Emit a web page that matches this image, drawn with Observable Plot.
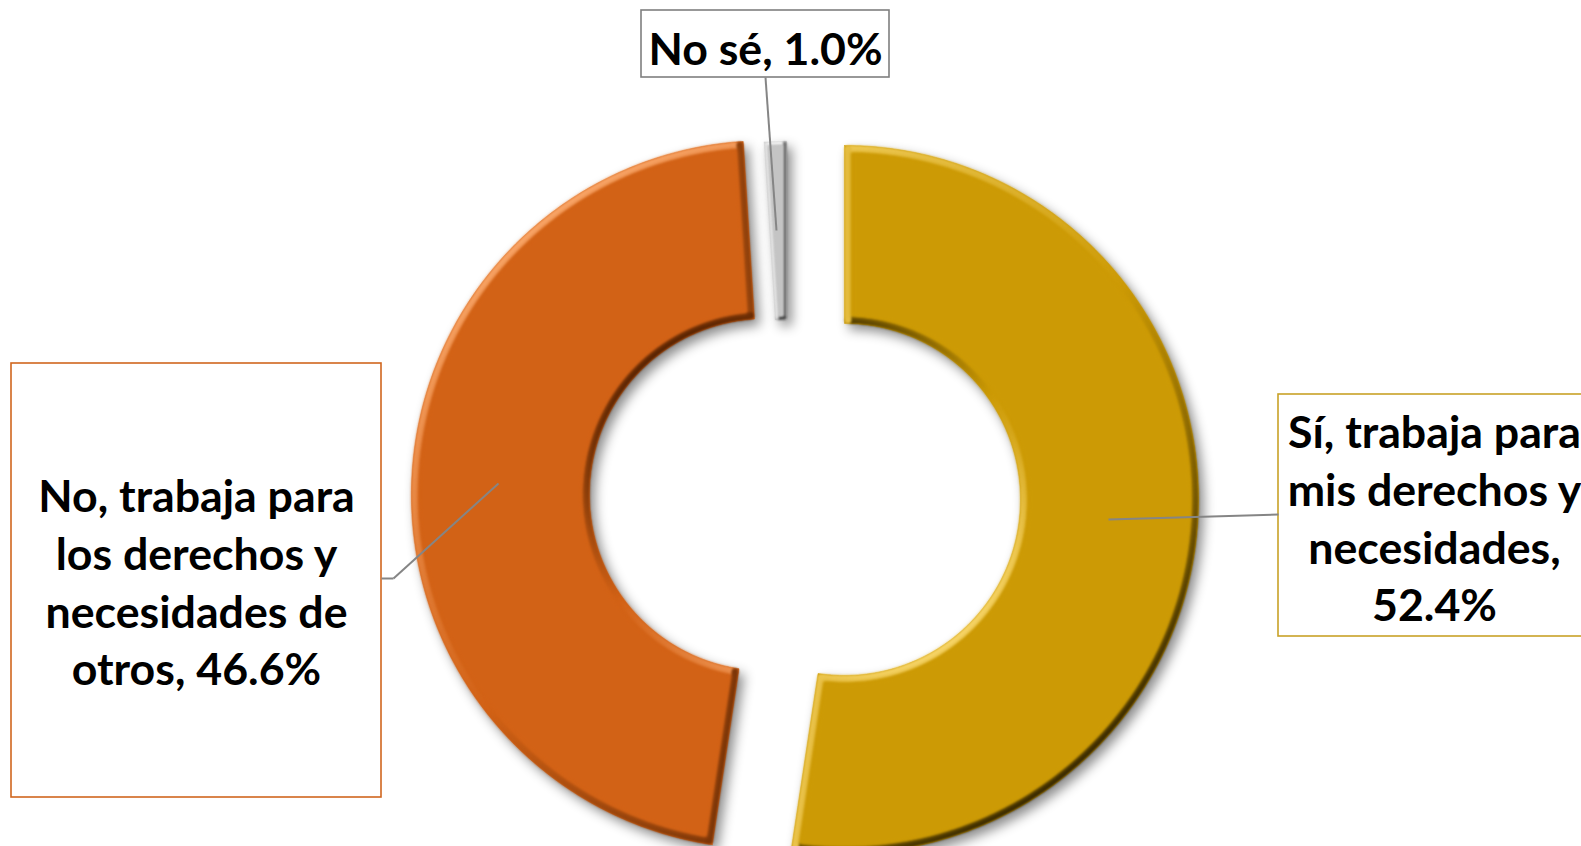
<!DOCTYPE html>
<html><head><meta charset="utf-8">
<script src="https://cdn.jsdelivr.net/npm/d3@7"></script>
<script src="https://cdn.jsdelivr.net/npm/@observablehq/plot@0.6"></script>
<style>html,body{margin:0;padding:0;background:#fff;overflow:hidden}</style>
</head><body><div id="chart"></div>
<script>
// ---- data ----
const categories = ["Sí, trabaja para mis derechos y necesidades", "No, trabaja para los derechos y necesidades de otros", "No sé"];
const values = [52.4, 46.6, 1.0];
const labelLines = [
  ["Sí, trabaja para", "mis derechos y", "necesidades,", "52.4%"],
  ["No, trabaja para", "los derechos y", "necesidades de", "otros, 46.6%"],
  ["No sé, 1.0%"]
];
const colors = ["#CC9A05", "#D26216", "#C4C4C4"];
const lightColors = ["#F6D467", "#F8A466", "#FFFFFF"];
const darkColors = ["#3A2A00", "#5A2503", "#2E2E2E"];
const boxStroke = ["#C9A227", "#D0661E", "#7F7F7F"];

// ---- layout ----
const W = 1581, H = 846;
const C = {x: 804.5, y: 496};
const R = 354, r = 176;
const shift = [{radial: 39.6}, {radial: 39.6}, {dx: -18.5, dy: -1}];
const bevel = [7, 7, 3.5];
const light = {x: -0.6, y: -0.8};
const boxes = [
  {x1: 1278, x2: 1600, y1: 394, y2: 636, tx: 1434, ty: 516},
  {x1: 11, x2: 381, y1: 363, y2: 797, tx: 196, ty: 580},
  {x1: 641, x2: 889, y1: 10, y2: 77, tx: 765, ty: 46}
];
const leaders = [
  {x1: 1108, y1: 519, x2: 1278, y2: 514},
  {x1: 498, y1: 483, x2: 393, y2: 578},
  {x1: 393, y1: 578, x2: 381, y2: 578},
  {x1: 776, y1: 230, x2: 765, y2: 77}
];

const arcs = d3.pie().sort(null).value(d => d)(values);

function ring(a0, a1, cx, cy, inset) {
  const pts = [];
  const Ro = R - inset, ri = r + inset;
  const ao0 = a0 + inset / Ro, ao1 = a1 - inset / Ro;
  const ai0 = a0 + inset / ri, ai1 = a1 - inset / ri;
  const n = Math.max(2, Math.ceil((a1 - a0) * 90));
  for (let i = 0; i <= n; i++) {
    const a = ao0 + (ao1 - ao0) * i / n;
    pts.push({x: cx + Ro * Math.sin(a), y: cy - Ro * Math.cos(a)});
  }
  for (let i = n; i >= 0; i--) {
    const a = ai0 + (ai1 - ai0) * i / n;
    pts.push({x: cx + ri * Math.sin(a), y: cy - ri * Math.cos(a)});
  }
  return pts;
}
const closed = pts => pts.concat([pts[0]]);

function bevelSegments(pts, i) {
  const segs = [];
  for (let k = 0; k < pts.length; k++) {
    const p = pts[k], q = pts[(k + 1) % pts.length];
    const dx = q.x - p.x, dy = q.y - p.y, len = Math.hypot(dx, dy) || 1;
    const s = (dy * light.x - dx * light.y) / len;
    const col = s >= 0 ? d3.interpolateRgb(colors[i], lightColors[i])(s) : d3.interpolateRgb(colors[i], darkColors[i])(-s);
    segs.push({x1: p.x, y1: p.y, x2: q.x, y2: q.y, c: col});
  }
  return segs;
}

const marks = [];
arcs.forEach((a, i) => {
  const s = shift[i];
  let cx = C.x, cy = C.y;
  if (s.radial) {
    const m = (a.startAngle + a.endAngle) / 2;
    cx += s.radial * Math.sin(m); cy -= s.radial * Math.cos(m);
  } else { cx += s.dx; cy += s.dy; }
  const b = bevel[i];
  marks.push(Plot.line(closed(ring(a.startAngle, a.endAngle, cx, cy, 0)), {x: "x", y: "y", fill: colors[i], stroke: colors[i], strokeWidth: 0.5}));
  marks.push(Plot.link(bevelSegments(ring(a.startAngle, a.endAngle, cx, cy, b / 2), i), {x1: "x1", y1: "y1", x2: "x2", y2: "y2", stroke: "c", strokeWidth: b, strokeLinecap: "round"}));
  marks.push(Plot.line(closed(ring(a.startAngle, a.endAngle, cx, cy, b)), {x: "x", y: "y", fill: colors[i], stroke: colors[i], strokeWidth: 0.5}));
});

const boxData = boxes.map((b, i) => ({...b, stroke: boxStroke[i], text: labelLines[i].join("\n")}));

marks.push(Plot.rect(boxData, {x1: "x1", x2: "x2", y1: "y1", y2: "y2", fill: "white", stroke: "stroke", strokeWidth: 1.6}));
marks.push(Plot.link(leaders, {x1: "x1", y1: "y1", x2: "x2", y2: "y2", stroke: "#858585", strokeWidth: 2}));
marks.push(Plot.text(boxData, {x: "tx", y: "ty", text: "text", textAnchor: "middle", lineAnchor: "middle",
  fontSize: 44.7, fontWeight: "bold", fontFamily: "Lato", lineHeight: 1.29, fill: "#000"}));

const chart = Plot.plot({
  width: W, height: H, margin: 0,
  x: {domain: [0, W], range: [0, W], axis: null},
  y: {domain: [0, H], range: [0, H], axis: null},
  color: {type: "identity"},
  style: {overflow: "hidden", background: "white"},
  marks
});

const svg = d3.select(chart);
const lineGroups = svg.selectAll('g[aria-label="line"]').nodes();
lineGroups.forEach((g, k) => {
  if (k % 2 === 0) g.style.filter = "drop-shadow(5px 6px 6px rgba(0,0,0,0.45))";
  else g.style.filter = k === 5 ? "blur(1px)" : "blur(2px)";
});
svg.selectAll('g[aria-label="link"]').nodes().slice(0, 3).forEach(g => g.style.filter = "blur(1px)");

document.getElementById("chart").appendChild(chart);
</script>
</body></html>
